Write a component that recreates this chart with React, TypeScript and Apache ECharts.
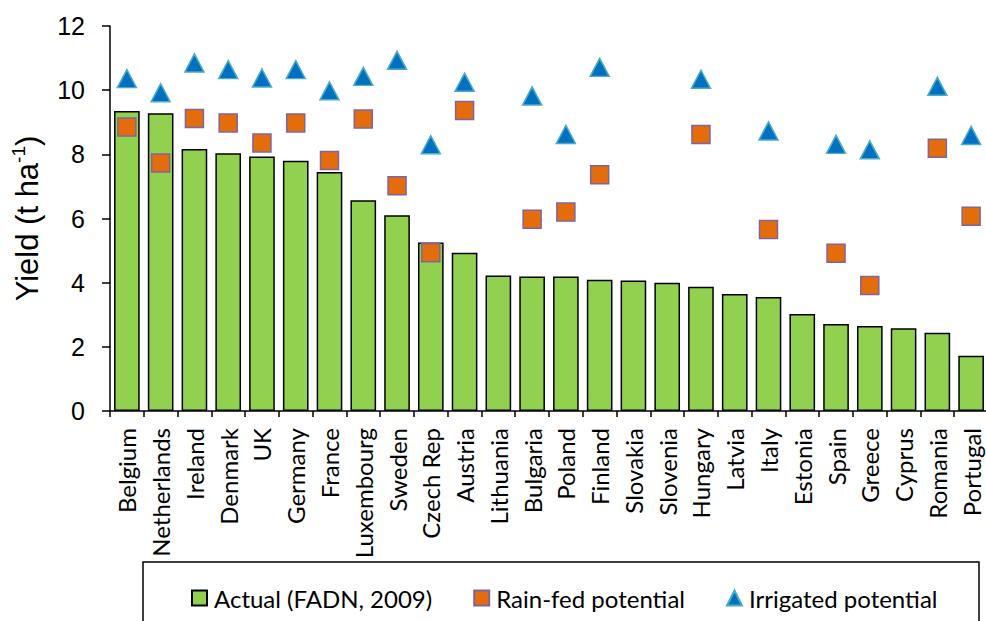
import React, { useEffect, useRef } from "react";
import * as echarts from "echarts";

const countries: string[] = [
  "Belgium", "Netherlands", "Ireland", "Denmark", "UK", "Germany", "France",
  "Luxembourg", "Sweden", "Czech Rep", "Austria", "Lithuania", "Bulgaria",
  "Poland", "Finland", "Slovakia", "Slovenia", "Hungary", "Latvia", "Italy",
  "Estonia", "Spain", "Greece", "Cyprus", "Romania", "Portugal",
];

const actual: number[] = [
  9.35, 9.28, 8.17, 8.03, 7.93, 7.8, 7.45, 6.57, 6.1, 5.25, 4.93, 4.22, 4.19,
  4.19, 4.09, 4.07, 4.0, 3.87, 3.65, 3.55, 3.02, 2.71, 2.65, 2.58, 2.44, 1.72,
];

const rainFed: (number | null)[] = [
  8.85, 7.73, 9.12, 8.98, 8.35, 8.98, 7.81, 9.1, 7.02, 4.93, 9.37, null, 5.98,
  6.2, 7.36, null, null, 8.62, null, 5.66, null, 4.92, 3.91, null, 8.19, 6.07,
];

const irrigated: (number | null)[] = [
  10.36, 9.92, 10.85, 10.64, 10.38, 10.64, 9.98, 10.43, 10.93, 8.3, 10.25, null,
  9.82, 8.62, 10.71, null, null, 10.34, null, 8.73, null, 8.31, 8.14, null,
  10.12, 8.59,
];

const seriesNames = ["Actual (FADN, 2009)", "Rain-fed potential", "Irrigated potential"];
const yMin = 0;
const yMax = 12;
const yStep = 2;

export default function App() {
  const ref = useRef<HTMLDivElement>(null);

  useEffect(() => {
    if (!ref.current) return;
    const chart = echarts.init(ref.current, null, { renderer: "svg" });
    const labelFont = "Lato, 'Open Sans', sans-serif";
    const arial = "'Liberation Sans', Arial, sans-serif";
    chart.setOption({
      animation: false,
      backgroundColor: "#ffffff",
      grid: { left: 110, top: 26, width: 878, height: 385 },
      xAxis: {
        type: "category",
        data: countries,
        axisLine: { show: true, lineStyle: { color: "#000", width: 1.5 } },
        axisTick: {
          show: true,
          length: 6,
          interval: 0,
          alignWithLabel: false,
          lineStyle: { color: "#000", width: 1.5 },
        },
        axisLabel: {
          interval: 0,
          rotate: 90,
          margin: 17,
          fontSize: 24,
          lineHeight: 20,
          fontFamily: labelFont,
          color: "#000",
        },
        splitLine: { show: false },
      },
      yAxis: {
        type: "value",
        min: yMin,
        max: yMax,
        interval: yStep,
        name: "{a|Yield (t ha}{s|-1}{a|)}",
        nameLocation: "middle",
        nameRotate: 90,
        nameGap: 65,
        nameTextStyle: {
          rich: {
            a: { fontSize: 31, fontFamily: arial, color: "#000", lineHeight: 36 },
            s: { fontSize: 19, fontFamily: arial, color: "#000", lineHeight: 20, verticalAlign: "top" },
          },
        },
        axisLine: { show: true, lineStyle: { color: "#000", width: 1.5 } },
        axisTick: { show: true, length: 8, lineStyle: { color: "#000", width: 1.5 } },
        axisLabel: { fontSize: 25, fontFamily: arial, color: "#000", margin: 25 },
        splitLine: { show: false },
      },
      legend: {
        left: 186,
        top: 581,
        itemWidth: 15,
        itemHeight: 15,
        itemGap: 41,
        textStyle: { fontSize: 24, fontFamily: labelFont, color: "#000", padding: [0, 0, 0, 2] },
        data: [
          { name: seriesNames[0], icon: "rect" },
          { name: seriesNames[1], icon: "rect" },
          { name: seriesNames[2], icon: "triangle" },
        ],
      },
      graphic: [
        {
          type: "rect",
          shape: { x: 143, y: 562, width: 836, height: 100 },
          style: { fill: "none", stroke: "#000", lineWidth: 1.5 },
          z: 0,
        },
      ],
      series: [
        {
          name: seriesNames[0],
          type: "bar",
          data: actual,
          barCategoryGap: "24%",
          itemStyle: { color: "#92D050", borderColor: "#000", borderWidth: 1.5 },
        },
        {
          name: seriesNames[1],
          type: "scatter",
          symbol: "rect",
          symbolSize: 18,
          data: rainFed.map((v) => (v === null ? "-" : v)),
          itemStyle: { color: "#E46C0A", borderColor: "#8064A2", borderWidth: 1.5, opacity: 1 },
        },
        {
          name: seriesNames[2],
          type: "scatter",
          symbol: "triangle",
          symbolSize: [19, 18],
          data: irrigated.map((v) => (v === null ? "-" : v)),
          itemStyle: { color: "#0070C0", borderColor: "#4BACC6", borderWidth: 1.5, opacity: 1 },
        },
      ],
    });
    return () => chart.dispose();
  }, []);

  return (
    <div style={{ position: "absolute", left: 0, top: 0, width: 986, height: 621, overflow: "hidden", background: "#fff" }}>
      <div ref={ref} style={{ width: 1000, height: 621 }} />
    </div>
  );
}
